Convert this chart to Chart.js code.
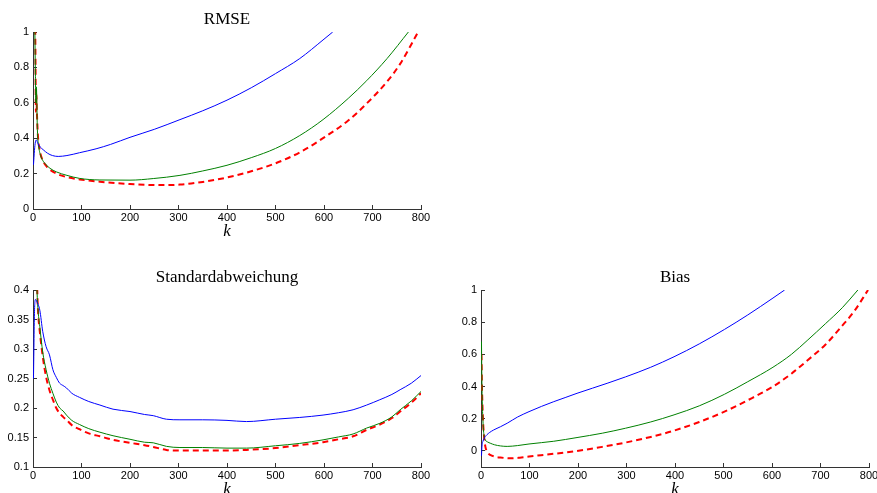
<!DOCTYPE html>
<html>
<head>
<meta charset="utf-8">
<script src="https://cdn.jsdelivr.net/npm/chart.js@4"></script>
<style>
  body { margin: 0; background: #fff; overflow: hidden; width: 877px; height: 493px; position: relative; }
  canvas { position: absolute; }
</style>
</head>
<body>
<canvas id="rmse" width="440" height="250" style="left:0px; top:0px;"></canvas>
<canvas id="std" width="440" height="250" style="left:0px; top:258px;"></canvas>
<canvas id="bias" width="440" height="250" style="left:448px; top:258px;"></canvas>
<script>
// x ticks (k)
const kTicks = [0, 100, 200, 300, 400, 500, 600, 700, 800];

// RMSE
const rmseTicks = [0, 0.2, 0.4, 0.6, 0.8, 1];
const rmseKBlue = [1, 3, 5, 7, 10, 15, 21, 30, 40, 52, 70, 96, 130, 160, 200, 250, 303, 350, 400, 450, 500, 550, 598, 618];
const rmseBlue = [0.25, 0.33, 0.38, 0.39, 0.37, 0.35, 0.335, 0.315, 0.302, 0.297, 0.302, 0.318, 0.34, 0.365, 0.405, 0.45, 0.505, 0.555, 0.615, 0.685, 0.765, 0.85, 0.955, 1.0];
const rmseKGreen = [3, 5, 6, 7, 9, 12, 16, 21, 27, 35, 48, 70, 96, 138, 200, 248, 303, 350, 400, 450, 500, 550, 598, 650, 688, 730, 774];
const rmseGreen = [1.2, 0.75, 0.6, 0.69, 0.45, 0.35, 0.3, 0.27, 0.25, 0.23, 0.21, 0.19, 0.173, 0.164, 0.163, 0.172, 0.19, 0.215, 0.247, 0.29, 0.342, 0.415, 0.505, 0.625, 0.725, 0.85, 1.0];
const rmseKRed = [3, 5, 6, 7, 8, 10, 14, 21, 30, 48, 70, 96, 138, 200, 261, 303, 350, 400, 450, 500, 550, 598, 650, 688, 730, 757, 794];
const rmseRed = [1.3, 0.9, 0.55, 0.65, 0.55, 0.42, 0.33, 0.27, 0.235, 0.2, 0.18, 0.167, 0.154, 0.141, 0.135, 0.138, 0.153, 0.178, 0.213, 0.258, 0.32, 0.4, 0.5, 0.596, 0.72, 0.82, 1.0];

// Standardabweichung
const stdTicks = [0.1, 0.15, 0.2, 0.25, 0.3, 0.35, 0.4];
const stdKBlue = [1, 3, 5, 8, 14, 20, 27, 34, 41, 48, 55, 62, 69, 80, 96, 115, 138, 165, 200, 230, 248, 275, 303, 350, 400, 440, 500, 550, 598, 630, 660, 688, 715, 740, 757, 780, 800];
const stdBlue = [0.25, 0.36, 0.384, 0.38, 0.366, 0.33, 0.304, 0.29, 0.265, 0.252, 0.242, 0.238, 0.234, 0.225, 0.218, 0.211, 0.205, 0.198, 0.194, 0.189, 0.187, 0.181, 0.18, 0.18, 0.179, 0.177, 0.181, 0.184, 0.188, 0.192, 0.197, 0.205, 0.214, 0.223, 0.231, 0.242, 0.255];
const stdKGreen = [7, 10, 14, 20, 27, 34, 41, 48, 55, 62, 69, 80, 96, 115, 138, 165, 200, 230, 248, 275, 303, 350, 400, 440, 500, 550, 598, 630, 660, 688, 715, 740, 757, 780, 800];
const stdGreen = [0.42, 0.37, 0.338, 0.295, 0.265, 0.242, 0.225, 0.21, 0.2, 0.195, 0.188, 0.179, 0.172, 0.165, 0.159, 0.153, 0.147, 0.142, 0.141, 0.135, 0.133, 0.133, 0.132, 0.132, 0.136, 0.14, 0.146, 0.151, 0.156, 0.166, 0.174, 0.185, 0.197, 0.212, 0.228];
const stdKRed = [8, 10, 14, 21, 27, 34, 41, 48, 55, 62, 69, 80, 96, 115, 138, 165, 200, 230, 248, 275, 303, 350, 400, 440, 500, 550, 598, 630, 660, 688, 715, 740, 757, 780, 800];
const stdRed = [0.42, 0.37, 0.33, 0.282, 0.253, 0.23, 0.214, 0.2, 0.191, 0.185, 0.18, 0.171, 0.164, 0.157, 0.152, 0.146, 0.141, 0.137, 0.134, 0.129, 0.128, 0.128, 0.128, 0.129, 0.132, 0.137, 0.142, 0.147, 0.152, 0.163, 0.172, 0.183, 0.194, 0.209, 0.225];

// Bias
const biasTicks = [0, 0.2, 0.4, 0.6, 0.8, 1];
const biasKBlue = [1, 2, 4, 6, 9, 12, 18, 26, 40, 54, 75, 99, 125, 150, 175, 198, 230, 260, 298, 350, 398, 450, 502, 550, 602, 626];
const biasBlue = [-0.03, 0.03, 0.06, 0.075, 0.09, 0.1, 0.115, 0.13, 0.15, 0.172, 0.21, 0.244, 0.277, 0.306, 0.333, 0.358, 0.39, 0.42, 0.46, 0.52, 0.585, 0.665, 0.755, 0.845, 0.95, 1.0];
const biasKGreen = [1, 2, 4, 6, 9, 14, 19, 28, 40, 54, 75, 99, 150, 198, 250, 298, 350, 398, 450, 502, 550, 602, 640, 674, 710, 745, 777];
const biasGreen = [0.68, 0.4, 0.19, 0.1, 0.068, 0.055, 0.048, 0.038, 0.031, 0.028, 0.033, 0.043, 0.06, 0.083, 0.11, 0.141, 0.18, 0.224, 0.28, 0.352, 0.43, 0.52, 0.6, 0.69, 0.79, 0.89, 1.0];
const biasKRed = [1, 2, 4, 6, 9, 14, 19, 28, 40, 61, 80, 99, 150, 198, 250, 298, 350, 398, 450, 502, 550, 602, 640, 674, 710, 743, 770, 798];
const biasRed = [0.6, 0.4, 0.2, 0.1, 0.027, -0.01, -0.025, -0.035, -0.041, -0.046, -0.042, -0.035, -0.018, 0.0, 0.025, 0.052, 0.087, 0.126, 0.18, 0.244, 0.315, 0.4, 0.48, 0.565, 0.66, 0.772, 0.87, 1.0];

const AXIS = '#333';
const SANS = '"Liberation Sans", Arial, sans-serif';
const SERIF = '"Liberation Serif", "Times New Roman", serif';

function pts(ks, ys) {
    return ks.map((k, i) => ({ x: k, y: ys[i] }));
}

function serie(ks, ys, cor, tracejado) {
    return {
        data: pts(ks, ys),
        borderColor: cor,
        borderWidth: tracejado ? 2 : 1,
        borderDash: tracejado ? [6, 4] : [],
        pointRadius: 0,
        cubicInterpolationMode: 'monotone',
        fill: false,
        clip: 0
    };
}

const rotulo = v => String(+v.toFixed(3));

function criarGrafico(id, titulo, yMin, yMax, yTicks, datasets) {
    new Chart(document.getElementById(id), {
        type: 'scatter',
        data: { datasets: datasets.map(d => ({ ...d, showLine: true })) },
        options: {
            responsive: false,
            animation: false,
            layout: { padding: { left: 0, right: 19, top: 0, bottom: 0 } },
            plugins: {
                legend: { display: false },
                tooltip: { enabled: false },
                title: { display: false }
            },
            scales: {
                x: {
                    type: 'linear',
                    min: 0,
                    max: 800,
                    afterBuildTicks: s => { s.ticks = kTicks.map(v => ({ value: v })); },
                    afterFit: s => { s.height = 41; },
                    border: { color: AXIS, width: 1 },
                    grid: { drawOnChartArea: false, drawTicks: true, tickLength: -4, tickColor: AXIS },
                    ticks: { color: '#000', font: { family: SANS, size: 11 }, padding: 6, maxRotation: 0, callback: rotulo },
                    title: {
                        display: true,
                        text: 'k',
                        color: '#000',
                        font: { family: SERIF, size: 17, style: 'italic', lineHeight: 1.2 },
                        padding: { top: 0, bottom: 8 }
                    }
                },
                // top axis only carries the panel title, centred over the plot
                topo: {
                    type: 'linear',
                    position: 'top',
                    axis: 'x',
                    min: 0,
                    max: 800,
                    afterFit: s => { s.height = 32; },
                    border: { display: false },
                    grid: { display: false },
                    ticks: { display: false },
                    title: {
                        display: true,
                        text: titulo,
                        color: '#000',
                        font: { family: SERIF, size: 17, lineHeight: 1.2 },
                        padding: { top: 9.3, bottom: 0 }
                    }
                },
                y: {
                    type: 'linear',
                    min: yMin,
                    max: yMax,
                    afterBuildTicks: s => { s.ticks = yTicks.map(v => ({ value: v })); },
                    afterFit: s => { s.width = 33; },
                    border: { color: AXIS, width: 1 },
                    grid: { drawOnChartArea: false, drawTicks: true, tickLength: -4, tickColor: AXIS },
                    ticks: { color: '#000', font: { family: SANS, size: 11 }, padding: 8, callback: rotulo }
                }
            }
        }
    });
}

criarGrafico('rmse', 'RMSE', 0, 1, rmseTicks, [
    serie(rmseKBlue, rmseBlue, '#0000ff', false),
    serie(rmseKGreen, rmseGreen, '#008000', false),
    serie(rmseKRed, rmseRed, '#ff0000', true)
]);

criarGrafico('std', 'Standardabweichung', 0.1, 0.4, stdTicks, [
    serie(stdKBlue, stdBlue, '#0000ff', false),
    serie(stdKGreen, stdGreen, '#008000', false),
    serie(stdKRed, stdRed, '#ff0000', true)
]);

criarGrafico('bias', 'Bias', -0.1, 1, biasTicks, [
    serie(biasKBlue, biasBlue, '#0000ff', false),
    serie(biasKGreen, biasGreen, '#008000', false),
    serie(biasKRed, biasRed, '#ff0000', true)
]);
</script>
</body>
</html>
